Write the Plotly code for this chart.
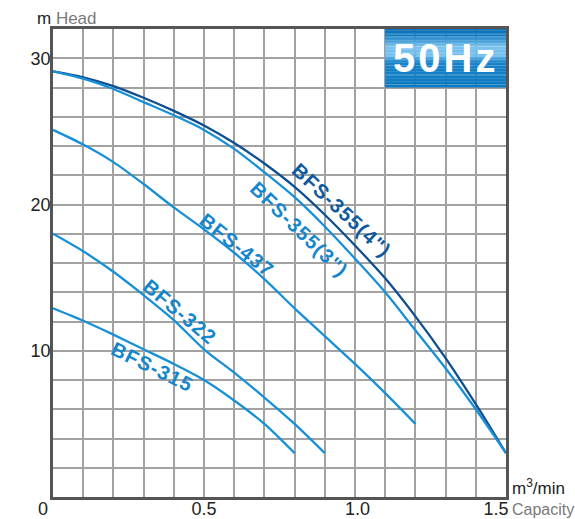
import plotly.graph_objects as go

# ---- data ----
capacity_355_4 = [0, 0.1, 0.2, 0.3, 0.4, 0.5, 0.6, 0.7, 0.8, 0.9, 1.0, 1.1, 1.2, 1.3, 1.4, 1.5]
head_355_4 = [29.1, 28.7, 28.1, 27.3, 26.4, 25.4, 24.2, 22.8, 21.2, 19.3, 17.2, 14.95, 12.35, 9.5, 6.35, 3.0]

capacity_355_3 = [0, 0.1, 0.2, 0.3, 0.4, 0.5, 0.6, 0.7, 0.8, 0.9, 1.0, 1.1, 1.2, 1.3, 1.4, 1.5]
head_355_3 = [29.1, 28.6, 27.9, 27.0, 26.1, 25.1, 23.8, 22.2, 20.5, 18.5, 16.3, 14.0, 11.4, 8.8, 6.0, 3.0]

capacity_437 = [0, 0.1, 0.2, 0.3, 0.4, 0.5, 0.6, 0.7, 0.8, 0.9, 1.0, 1.1, 1.2]
head_437 = [25.1, 24.1, 22.9, 21.4, 19.8, 18.3, 16.7, 14.9, 12.9, 11.0, 9.1, 7.1, 5.0]

capacity_322 = [0, 0.1, 0.2, 0.3, 0.4, 0.5, 0.6, 0.7, 0.8, 0.9]
head_322 = [18.0, 16.8, 15.4, 13.8, 12.1, 10.1, 8.5, 6.8, 5.0, 3.0]

capacity_315 = [0, 0.1, 0.2, 0.3, 0.4, 0.5, 0.6, 0.7, 0.8]
head_315 = [12.9, 12.05, 11.1, 10.1, 9.1, 8.0, 6.6, 5.0, 3.0]

series_names = ["BFS-355(4\")", "BFS-355(3\")", "BFS-437", "BFS-322", "BFS-315"]

x_tickvals = [0, 0.5, 1.0, 1.5]
x_ticktext = ["0\u00a0\u00a0\u00a0\u00a0", "0.5", "\u00a01.0", "1.5\u00a0\u00a0\u00a0\u00a0"]
x_gridvals = [0, 0.1, 0.2, 0.3, 0.4, 0.5, 0.6, 0.7, 0.8, 0.9, 1.0, 1.1, 1.2, 1.3, 1.4, 1.5]
y_tickvals = [10, 20, 30]
y_ticktext = ["10", "20", "30"]
y_gridvals = [0, 2, 4, 6, 8, 10, 12, 14, 16, 18, 20, 22, 24, 26, 28, 30, 32]

# label anchor points (data coords) and angles
label_x = [0.955, 0.8146, 0.609, 0.4215, 0.329]
label_y = [19.6, 18.34, 17.25, 12.68, 8.87]
label_angle = [43, 44, 38.5, 40, 26]

badge_text = "50Hz"
badge_x = [1.1, 1.5]
badge_y = [28, 32]

# ---- styling ----
DARK = "#0d4f91"
LIGHT = "#1790d8"
LABEL_DARK = "#0e5a9e"
LABEL_LIGHT = "#1486cc"
line_colors = [DARK, LIGHT, LIGHT, LIGHT, LIGHT]
label_colors = [LABEL_DARK, LABEL_LIGHT, LABEL_LIGHT, LABEL_LIGHT, LABEL_LIGHT]

xs = [capacity_355_4, capacity_355_3, capacity_437, capacity_322, capacity_315]
ys = [head_355_4, head_355_3, head_437, head_322, head_315]

fig = go.Figure()
for name, x, y, c in zip(series_names, xs, ys, line_colors):
    fig.add_trace(go.Scatter(x=x, y=y, mode="lines", name=name,
                             line=dict(color=c, width=2.3, shape="spline", smoothing=0.8),
                             showlegend=False, hoverinfo="skip"))

annotations = []
for name, lx, ly, ang, c in zip(series_names, label_x, label_y, label_angle, label_colors):
    annotations.append(dict(x=lx, y=ly, xref="x", yref="y",
                            text="<span style='letter-spacing:1.2px'><b>%s</b></span>" % name,
                            textangle=ang, showarrow=False,
                            font=dict(family="Arial", size=20, color=c)))

# badge gradient (stacked thin rectangles)
def lerp(c1, c2, t):
    return "rgb(%d,%d,%d)" % tuple(round(a + (b - a) * t) for a, b in zip(c1, c2))

stops = [(0.0, (10, 112, 180)), (0.12, (20, 125, 195)), (0.3, (125, 196, 238)),
         (0.45, (110, 188, 236)), (0.58, (24, 130, 200)), (1.0, (12, 122, 192))]
shapes = []
n = 40
y0, y1 = badge_y
for i in range(n):
    t = (i + 0.5) / n
    for (ta, ca), (tb, cb) in zip(stops[:-1], stops[1:]):
        if ta <= t <= tb:
            col = lerp(ca, cb, (t - ta) / (tb - ta))
            break
    top = y1 - (y1 - y0) * i / n
    bot = y1 - (y1 - y0) * (i + 1) / n
    shapes.append(dict(type="rect", xref="x", yref="y", x0=badge_x[0], x1=badge_x[1],
                       y0=bot, y1=top + 0.01, fillcolor=col, line=dict(width=0), layer="above"))

annotations.append(dict(x=sum(badge_x) / 2, y=sum(badge_y) / 2, xref="x", yref="y",
                        text="<span style='letter-spacing:3px'><b>%s</b></span>" % badge_text,
                        showarrow=False,
                        font=dict(family="Arial", size=40, color="white")))

# axis titles
annotations.append(dict(x=-0.0397, y=1.0235, xref="paper", yref="paper", xanchor="left", yanchor="middle",
                        text="m <span style='color:#7a7a7a'>Head</span>", showarrow=False,
                        font=dict(family="Arial", size=17, color="#222222")))
annotations.append(dict(x=1.0088, y=0.022, xref="paper", yref="paper", xanchor="left", yanchor="middle",
                        text="m<sup>3</sup>/min", showarrow=False,
                        font=dict(family="Arial", size=17, color="#222222")))
annotations.append(dict(x=1.009, y=-0.027, xref="paper", yref="paper", xanchor="left", yanchor="middle",
                        text="Capacity", showarrow=False,
                        font=dict(family="Arial", size=16, color="#7a7a7a")))

GRID = "#a2a2a2"
axis_common = dict(showgrid=True, gridcolor=GRID, gridwidth=1.5,
                   showline=True, linecolor="#555555", linewidth=2.5, mirror=True,
                   zeroline=False, ticks="", automargin=False,
                   tickfont=dict(family="Arial", size=18, color="#222222"))

fig.update_layout(
    width=575, height=519,
    margin=dict(l=53, r=69, t=29, b=22, autoexpand=False),
    paper_bgcolor="white", plot_bgcolor="white",
    xaxis=dict(range=[0, 1.5], tickmode="array", tickvals=x_tickvals, ticktext=x_ticktext,
               minor=dict(tickmode="array", tickvals=x_gridvals, showgrid=True,
                          gridcolor=GRID, gridwidth=1.5, ticks=""),
               ticklabelstandoff=-6, **axis_common),
    yaxis=dict(range=[0, 32], tickmode="array", tickvals=y_tickvals, ticktext=y_ticktext,
               minor=dict(tickmode="array", tickvals=y_gridvals, showgrid=True,
                          gridcolor=GRID, gridwidth=1.5, ticks=""),
               ticklabelstandoff=-4, **axis_common),
    annotations=annotations,
    shapes=shapes,
)

fig.write_html("out.html", config={"displayModeBar": False},
               post_script="document.body.style.margin='0';document.body.style.overflow='hidden';")
